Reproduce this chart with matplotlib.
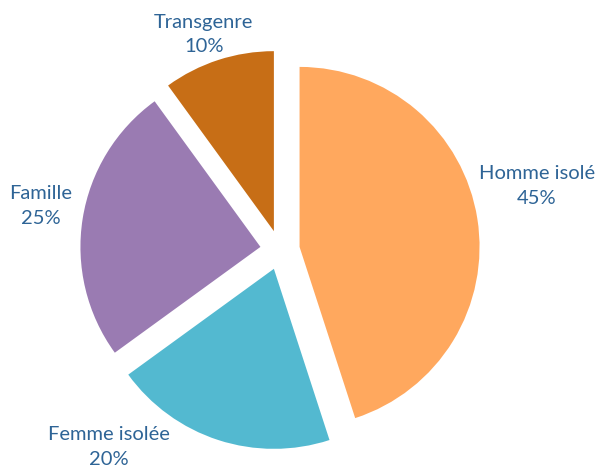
import numpy as np
import matplotlib
matplotlib.use('Agg')
import matplotlib.pyplot as plt

# data
categories = ["Homme isolé", "Femme isolée", "Famille", "Transgenre"]
shares = [45, 20, 25, 10]
colors = ['#FFA85E', '#53B9D0', '#9A7BB2', '#C76E16']

text_color = '#2E6496'
plt.rcParams['font.family'] = ['Lato', 'DejaVu Sans']

fig = plt.figure(figsize=(6.0, 4.68), dpi=100)
ax = fig.add_axes([0, 0, 1, 1])

wedges, _ = ax.pie(shares, colors=colors, startangle=90, counterclock=False,
                   explode=[0.11] * len(shares), radius=1.0,
                   wedgeprops=dict(linewidth=0))

# label placement (angle in degrees, distance in radii) per slice
label_pos = [(14, 1.47), (229, 1.45), (169.5, 1.35), (109.5, 1.27)]
for name, val, (ang, dist) in zip(categories, shares, label_pos):
    a = np.deg2rad(ang)
    ax.text(dist * np.cos(a), dist * np.sin(a), '%s\n%d%%' % (name, val),
            ha='center', va='center', color=text_color, fontsize=14.5,
            linespacing=1.55)

ax.set_aspect('equal')
ax.set_xlim(-280 / 180, 320 / 180)
ax.set_ylim(-218 / 180, 250 / 180)
ax.axis('off')

fig.savefig('out.png', dpi=100)
